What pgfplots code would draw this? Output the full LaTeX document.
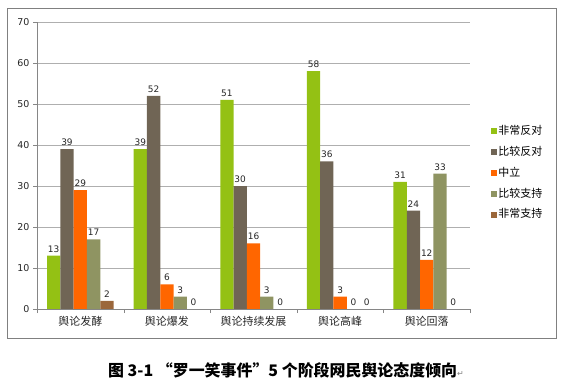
\documentclass[border=0pt]{standalone}
\usepackage{fontspec}
\setmainfont{DejaVu Sans}
\newfontfamily\cjk{Noto Sans CJK SC}
\usepackage{pgfplots}
\pgfplotsset{compat=1.18}
\definecolor{c1}{RGB}{148,193,20}
\definecolor{c2}{RGB}{112,101,85}
\definecolor{c3}{RGB}{255,102,0}
\definecolor{c4}{RGB}{143,148,98}
\definecolor{c5}{RGB}{155,103,59}
\definecolor{framec}{RGB}{128,128,128}
\definecolor{axgray}{RGB}{134,134,134}
\definecolor{gridgray}{RGB}{175,175,175}
\begin{document}
\begin{tikzpicture}
\useasboundingbox (0,0) rectangle (564bp,384bp);
\draw[framec, line width=0.9bp] (7.5bp,46bp) rectangle (556.5bp,376bp);
\begin{axis}[
 at={(37bp,75bp)}, anchor=south west,
 scale only axis, width=433bp, height=287bp,
 ymin=0, ymax=70, ytick={0,10,...,70},
 xmin=-0.5, xmax=4.5, xtick={0,...,4},
 xticklabels={舆论发酵,舆论爆发,舆论持续发展,舆论高峰,舆论回落},
 xticklabel style={font=\cjk\fontsize{11}{13}\selectfont, text=black!85},
 yticklabel style={font=\fontsize{9.5}{11}\selectfont, text=black!85},
 minor xtick={-0.5,0.5,...,4.5},
 axis x line*=bottom, axis y line*=left,
 axis line style={draw=axgray, -},
 ymajorgrids, grid style={draw=gridgray, line width=0.6bp},
 major x tick style={draw=none},
 minor tick length=4bp,
 major tick length=4bp,
 tick align=outside,
 tick style={draw=axgray},
 ybar=0pt, bar width=13.3bp,
 nodes near coords,
 every node near coord/.append style={font=\fontsize{9}{11}\selectfont, text=black!85},
 /pgf/number format/assume math mode=true,
 legend style={at={(1.042,0.474)}, anchor=west, draw=none, fill=none,
   font=\cjk\fontsize{11}{13}\selectfont, row sep=8.3bp,
   nodes={inner sep=1bp, text height=8.5bp, text depth=2bp}},
 legend cell align=left,
]
\addplot[fill=c1, draw=none, legend image code/.code={\fill[c1] (0bp,-3bp) rectangle (6bp,3bp);}]
 coordinates {(0,13) (1,39) (2,51) (3,58) (4,31)};
\addplot[fill=c2, draw=none, legend image code/.code={\fill[c2] (0bp,-3bp) rectangle (6bp,3bp);}]
 coordinates {(0,39) (1,52) (2,30) (3,36) (4,24)};
\addplot[fill=c3, draw=none, legend image code/.code={\fill[c3] (0bp,-3bp) rectangle (6bp,3bp);}]
 coordinates {(0,29) (1,6) (2,16) (3,3) (4,12)};
\addplot[fill=c4, draw=none, legend image code/.code={\fill[c4] (0bp,-3bp) rectangle (6bp,3bp);}]
 coordinates {(0,17) (1,3) (2,3) (3,0) (4,33)};
\addplot[fill=c5, draw=none, legend image code/.code={\fill[c5] (0bp,-3bp) rectangle (6bp,3bp);}]
 coordinates {(0,2) (1,0) (2,0) (3,0) (4,0)};
\legend{非常反对,比较反对,中立,比较支持,非常支持}
\end{axis}
\node[font=\cjk\bfseries\fontsize{16}{18}\selectfont, anchor=center] at (286bp,14bp)
 {图 3-1 “罗一笑事件”5 个阶段网民舆论态度倾向{\normalfont\fontsize{8}{8}\selectfont\color{gray}↵}};
\end{tikzpicture}
\end{document}
